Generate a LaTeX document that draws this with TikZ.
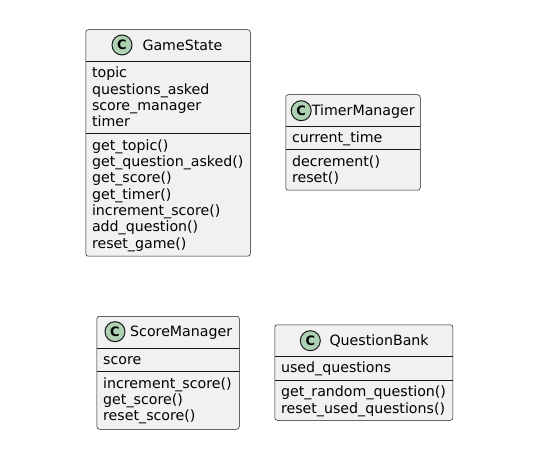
\documentclass[tikz,border=0pt]{standalone}
\usepackage{fontspec}
\setmainfont{DejaVu Sans}
\definecolor{bordc}{HTML}{181818}
\definecolor{boxfill}{HTML}{F1F1F1}
\definecolor{spotc}{HTML}{ADD1B2}
\newcommand\classbox[7]{%
  \node[clsbox, anchor=north west, minimum width=#4-#2, minimum height=#7-#3] (#1) at (#2,#3) {};
  \draw[hdiv] (#2,#5) -- (#4,#5);
  \draw[mdiv] (#2,#6) -- (#4,#6);
}
\newcommand\textlines[4]{%
  \foreach \t [count=\i] in {#4} {
    \node[txt, anchor=base west] (#1\i) at (#2, {#3+(\i-1)*16.3}) {\t};
  }%
}
\begin{document}
\begin{tikzpicture}[x=1pt,y=-1pt,
  clsbox/.style={draw=bordc, line width=0.5pt, fill=boxfill, rounded corners=2.5pt, inner sep=0pt},
  hdiv/.style={draw=bordc, line width=0.5pt},
  mdiv/.style={draw=bordc, line width=1pt},
  txt/.style={inner sep=0pt, font=\fontsize{14.2}{16}\selectfont, text=black},
  spot/.style={circle, draw=bordc, line width=1pt, fill=spotc, minimum size=20pt, inner sep=0pt, font=\bfseries\fontsize{13}{13}\selectfont}]
\useasboundingbox[fill=white] (0,0) rectangle (549,457);

% GameState
\classbox{gs}{85.5}{29.5}{250}{61}{134}{256}
\node[spot] (gsc) at (122,45) {C};
\node[txt, anchor=base west] (gst) at (142.3,50.1) {GameState};
\textlines{gsa}{91.8}{78}{topic, questions\_asked, score\_manager, timer}
\textlines{gsm}{91.8}{150.3}{get\_topic(), get\_question\_asked(), get\_score(), get\_timer(), increment\_score(), add\_question(), reset\_game()}

% TimerManager
\classbox{tm}{285.5}{94.5}{420}{126.7}{150}{190}
\node[spot] (tmc) at (301.2,110.7) {C};
\node[txt, anchor=base west] (tmt) at (311.7,115.8) {TimerManager};
\textlines{tma}{291.8}{143}{current\_time}
\textlines{tmm}{291.8}{166.3}{decrement(), reset()}

% ScoreManager
\classbox{sm}{96.7}{316}{239}{348.3}{371.7}{429}
\node[spot] (smc) at (115,331.7) {C};
\node[txt, anchor=base west] (smt) at (130,336.8) {ScoreManager};
\textlines{sma}{103}{364.8}{score}
\textlines{smm}{103}{388}{increment\_score(), get\_score(), reset\_score()}

% QuestionBank
\classbox{qb}{274.5}{324.5}{452.7}{356}{380.5}{420}
\node[spot] (qbc) at (310.3,340.7) {C};
\node[txt, anchor=base west] (qbt) at (329.3,345.8) {QuestionBank};
\textlines{qba}{280.8}{372.5}{used\_questions}
\textlines{qbm}{280.8}{396.8}{get\_random\_question(), reset\_used\_questions()}
\end{tikzpicture}
\end{document}
